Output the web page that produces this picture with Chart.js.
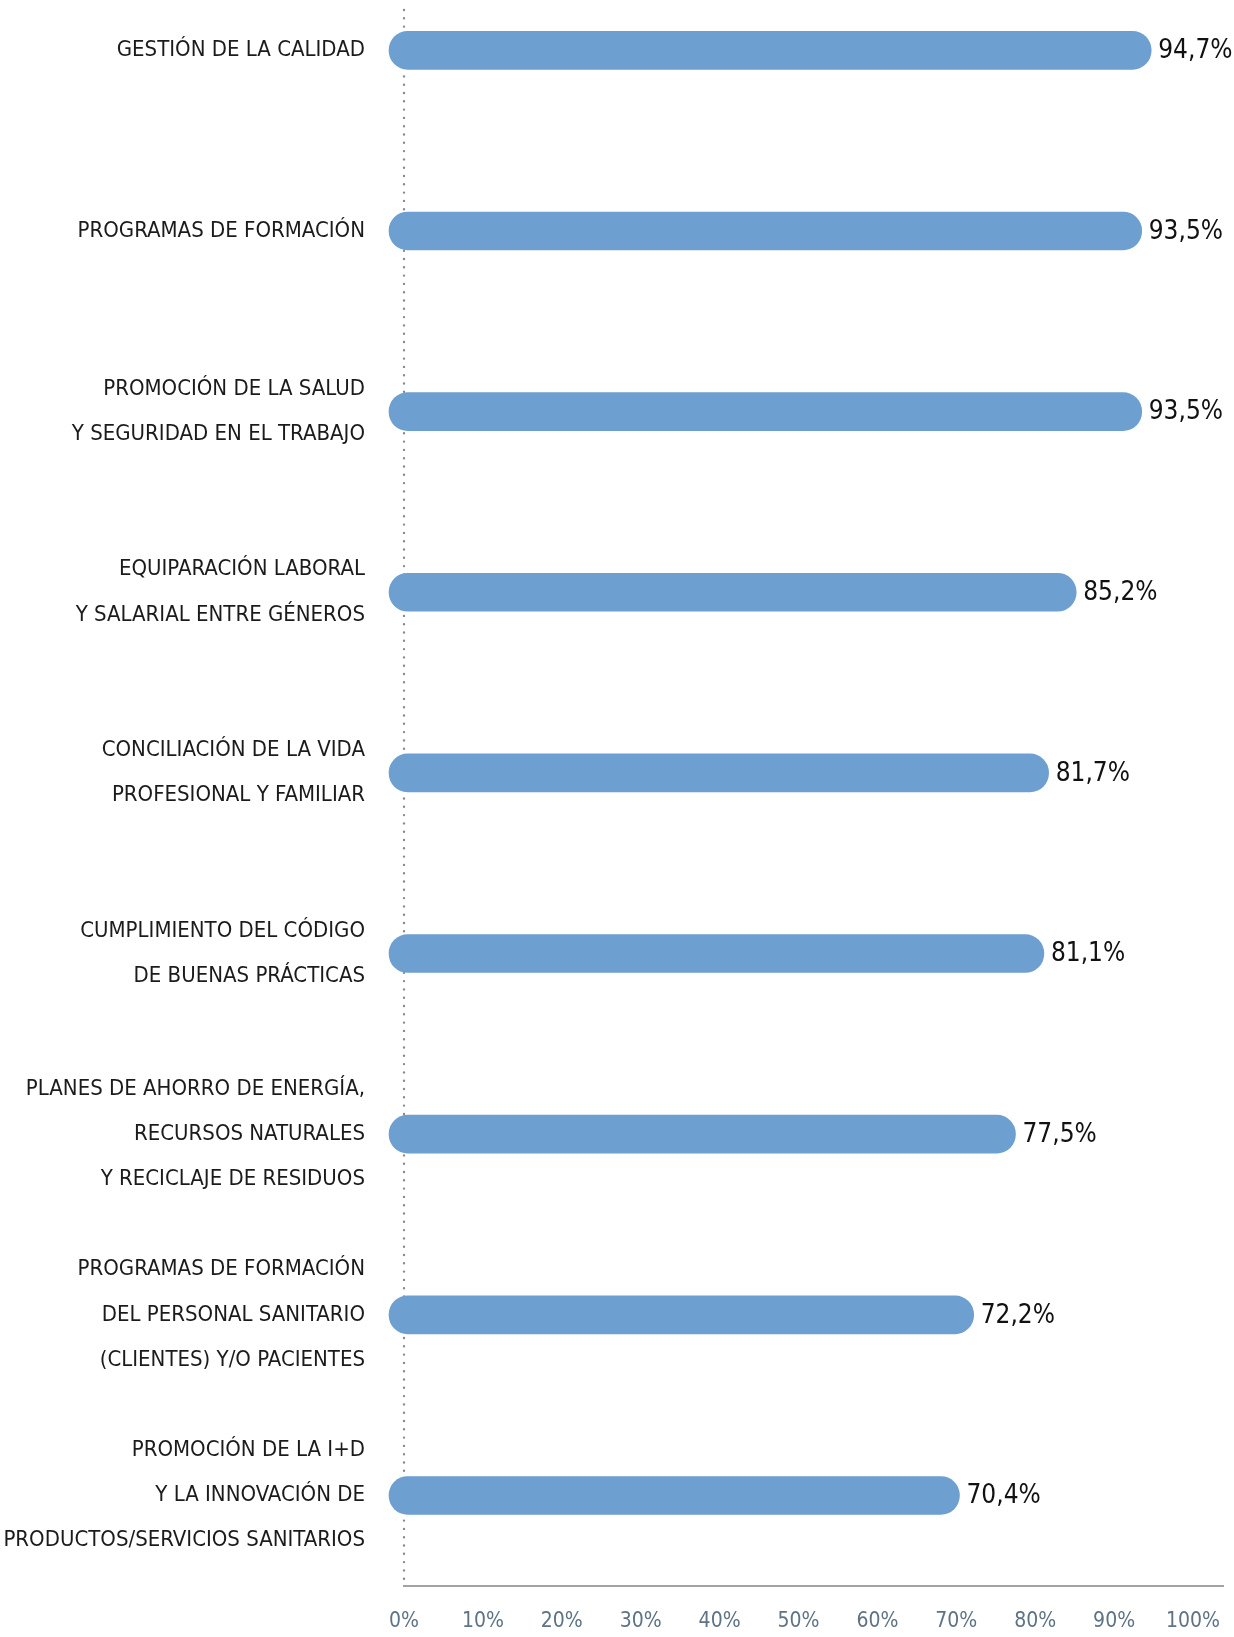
<!DOCTYPE html>
<html>
<head>
<meta charset="utf-8">
<script src="https://cdn.jsdelivr.net/npm/chart.js@4/dist/chart.umd.min.js"></script>
<style>
  html, body { margin: 0; padding: 0; background: #fff; overflow: hidden; width: 1234px; height: 1637px; }
  #wrap { position: absolute; left: 0; top: -40px; width: 1234px; height: 1710px; }
</style>
</head>
<body>
<div id="wrap"><canvas id="chart"></canvas></div>
<script>
// categories (multi-line labels)
const categories = [
  ["GESTIÓN DE LA CALIDAD"],
  ["PROGRAMAS DE FORMACIÓN"],
  ["PROMOCIÓN DE LA SALUD", "Y SEGURIDAD EN EL TRABAJO"],
  ["EQUIPARACIÓN LABORAL", "Y SALARIAL ENTRE GÉNEROS"],
  ["CONCILIACIÓN DE LA VIDA", "PROFESIONAL Y FAMILIAR"],
  ["CUMPLIMIENTO DEL CÓDIGO", "DE BUENAS PRÁCTICAS"],
  ["PLANES DE AHORRO DE ENERGÍA,", "RECURSOS NATURALES", "Y RECICLAJE DE RESIDUOS"],
  ["PROGRAMAS DE FORMACIÓN", "DEL PERSONAL SANITARIO", "(CLIENTES) Y/O PACIENTES"],
  ["PROMOCIÓN DE LA I+D", "Y LA INNOVACIÓN DE", "PRODUCTOS/SERVICIOS SANITARIOS"]
];
const values = [94.7, 93.5, 93.5, 85.2, 81.7, 81.1, 77.5, 72.2, 70.4];
const xTicks = [0, 10, 20, 30, 40, 50, 60, 70, 80, 90, 100];

const FONT = "'DejaVu Sans Condensed', 'Liberation Sans Narrow', sans-serif";
const BAR_COLOR = "#6d9fd0";

// value labels to the right of each bar
const valueLabels = {
  id: "valueLabels",
  afterDatasetsDraw(chart) {
    const ctx = chart.ctx;
    const meta = chart.getDatasetMeta(0);
    ctx.save();
    ctx.font = "26px " + FONT;
    ctx.fillStyle = "#111";
    ctx.textAlign = "left";
    ctx.textBaseline = "middle";
    meta.data.forEach((bar, i) => {
      const txt = values[i].toFixed(1).replace(".", ",") + "%";
      ctx.fillText(txt, bar.x + 7, bar.y + 1);
    });
    ctx.restore();
  }
};

// dotted line at 0%
const zeroLine = {
  id: "zeroLine",
  beforeDatasetsDraw(chart) {
    const ctx = chart.ctx;
    const x = Math.round(chart.scales.x.getPixelForValue(0));
    ctx.save();
    ctx.strokeStyle = "#8a8a8a";
    ctx.lineWidth = 2.4;
    ctx.lineCap = "round";
    ctx.setLineDash([0, 8.3]);
    ctx.beginPath();
    ctx.moveTo(x, 50);
    ctx.lineTo(x, chart.chartArea.bottom);
    ctx.stroke();
    ctx.restore();
  }
};

new Chart(document.getElementById("chart"), {
  type: "bar",
  data: {
    labels: categories,
    datasets: [{
      data: values,
      backgroundColor: BAR_COLOR,
      barThickness: 38,
      borderRadius: 19,
      borderSkipped: false,
      base: -1.9,
      clip: false
    }]
  },
  options: {
    indexAxis: "y",
    responsive: true,
    maintainAspectRatio: false,
    animation: false,
    layout: { padding: { top: 0, right: 11, bottom: 13, left: 0 } },
    plugins: { legend: { display: false }, tooltip: { enabled: false } },
    scales: {
      x: {
        min: 0,
        max: 103.8,
        afterBuildTicks: (scale) => {
          scale.ticks = xTicks.map(v => ({ value: v }));
        },
        afterFit: (scale) => { scale.paddingLeft = 0; scale.paddingRight = 0; },
        grid: { display: false, drawTicks: false },
        border: { display: true, color: "#a3a3a3", width: 2 },
        ticks: {
          autoSkip: false,
          maxRotation: 0,
          padding: 23,
          color: "#5e7383",
          font: { family: FONT, size: 21 },
          callback: (v) => v + "%"
        }
      },
      y: {
        afterFit: (scale) => {
          scale.width = 404;
          scale.paddingTop = 0;
          scale.paddingBottom = 0;
        },
        grid: { display: false, drawTicks: false },
        border: { display: false },
        ticks: {
          padding: 39,
          color: "#1b1b1b",
          font: { family: FONT, size: 22, lineHeight: 2.05 }
        }
      }
    }
  },
  plugins: [zeroLine, valueLabels]
});
</script>
</body>
</html>
